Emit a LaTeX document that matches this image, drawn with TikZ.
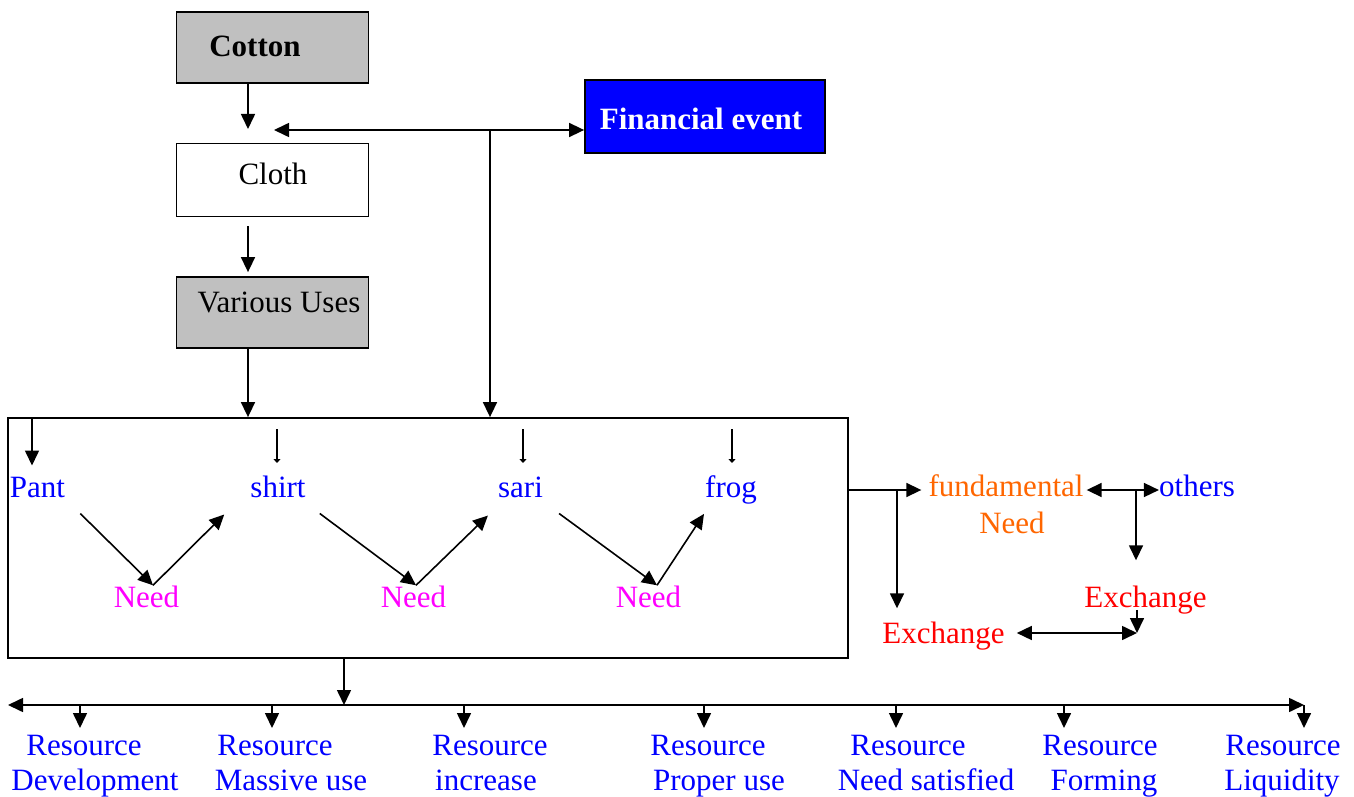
\documentclass[tikz,border=0pt]{standalone}
\usepackage{fontspec}
\setmainfont{Liberation Serif}
\usetikzlibrary{arrows.meta}
\definecolor{boxgray}{HTML}{C0C0C0}
\definecolor{fblue}{HTML}{0000FF}
\definecolor{nmag}{HTML}{FF00FF}
\definecolor{forange}{HTML}{FF6600}
\definecolor{exred}{HTML}{FF0000}
\begin{document}
\begin{tikzpicture}[x=1pt,y=-1pt,
  font=\fontsize{31}{36}\selectfont,
  box/.style={draw=black, line width=1.8pt, inner sep=0pt, minimum width=192pt},
  txt/.style={inner sep=0pt, anchor=base},
  conn/.style={line width=1.6pt},
  arr/.style={conn, -{Triangle[length=15pt,width=14pt]}},
  darr/.style={conn, {Triangle[length=15pt,width=14pt]}-{Triangle[length=15pt,width=14pt]}},
  sarr/.style={line width=1.4pt, -{Triangle[length=4pt,width=7pt]}},
  ]
\useasboundingbox (0,0) rectangle (1354,797);

% boxes
\node[box, fill=boxgray, minimum height=71pt] (cotton) at (272.5,47.5) {};
\node[box, fill=white, minimum height=73pt] (cloth) at (272.5,180) {};
\node[box, fill=boxgray, minimum height=71pt] (uses) at (272.5,312.5) {};
\node[box, fill=fblue, minimum width=240pt, minimum height=73pt] (fin) at (705,116.5) {};
\node[box, minimum width=840pt, minimum height=240pt] (big) at (428,538) {};

% box texts
\node[txt, font=\fontsize{31}{36}\selectfont\bfseries] (cottonT) at (255,57) {Cotton};
\node[txt] (clothT) at (273,184) {Cloth};
\node[txt] (usesT) at (279,312) {Various Uses};
\node[txt, text=white, font=\fontsize{31}{36}\selectfont\bfseries] (finT) at (701,129) {Financial event};

% inner texts
\node[txt, text=fblue] (pant) at (37.5,497) {Pant};
\node[txt, text=fblue] (shirt) at (278,497) {shirt};
\node[txt, text=fblue] (sari) at (520.5,497) {sari};
\node[txt, text=fblue] (frog) at (731,497) {frog};
\node[txt, text=nmag] (need1) at (146.5,607) {Need};
\node[txt, text=nmag] (need2) at (413.5,607) {Need};
\node[txt, text=nmag] (need3) at (648.5,607) {Need};

% right texts
\node[txt, text=forange] (fundT) at (1006,496) {fundamental};
\node[txt, text=forange] (fundN) at (1012,533) {Need};
\node[txt, text=fblue] (others) at (1197,496) {others};
\node[txt, text=exred] (exR) at (1145.5,607) {Exchange};
\node[txt, text=exred] (exL) at (943.5,643) {Exchange};

% bottom labels
\node[txt, text=fblue] (r1) at (84,755) {Resource};
\node[txt, text=fblue] (r1b) at (95,790) {Development};
\node[txt, text=fblue] (r2) at (275,755) {Resource};
\node[txt, text=fblue] (r2b) at (291,790) {Massive use};
\node[txt, text=fblue] (r3) at (490,755) {Resource};
\node[txt, text=fblue] (r3b) at (486,790) {increase};
\node[txt, text=fblue] (r4) at (708,755) {Resource};
\node[txt, text=fblue] (r4b) at (719,790) {Proper use};
\node[txt, text=fblue] (r5) at (908,755) {Resource};
\node[txt, text=fblue] (r5b) at (926,790) {Need satisfied};
\node[txt, text=fblue] (r6) at (1100,755) {Resource};
\node[txt, text=fblue] (r6b) at (1104,790) {Forming};
\node[txt, text=fblue] (r7) at (1283,755) {Resource};
\node[txt, text=fblue] (r7b) at (1282,790) {Liquidity};

% helper coordinates
\coordinate (c1) at (248,129);
\coordinate (ax) at (248,0);
\coordinate (fl) at (274,130);
\coordinate (fj) at (490,130);
\coordinate (px) at (32,0);
\coordinate (s1) at (277,429);
\coordinate (s2) at (523,429);
\coordinate (s3) at (732,429);
\coordinate (rj) at (897,490);
\coordinate (rj2) at (1136,490);
\coordinate (ej) at (1137,633);
\coordinate (bj) at (344,705);
\coordinate (bl) at (8,705);
\coordinate (br) at (1304,705);
\coordinate (d1) at (80,728);
\coordinate (d2) at (272,728);
\coordinate (d3) at (464,728);
\coordinate (d4) at (704,728);
\coordinate (d5) at (896,728);
\coordinate (d6) at (1064,728);
\coordinate (d7) at (1304,728);

% top connectors
\draw[arr] (cotton.south -| c1) -- (c1);
\draw[darr] (fl) -- (fl -| fin.west);
\draw[arr] (fj) -- (fj |- big.north);
\draw[arr, shorten <=9pt, shorten >=4pt] (cloth.south -| ax) -- (uses.north -| ax);
\draw[arr] (uses.south -| ax) -- (big.north -| ax);

% inside the big box
\draw[arr, shorten >=11pt] (big.north -| px) -- (pant.north -| px);
\draw[sarr] (s1) -- (s1 |- 0,463);
\draw[sarr] (s2) -- (s2 |- 0,463);
\draw[sarr] (s3) -- (s3 |- 0,463);
\draw[arr] ([shift={(15,16)}]pant.south east) -- ([xshift=6.5pt]need1.north);
\draw[arr] ([xshift=6.5pt]need1.north) -- ([shift={(-26,17)}]shirt.south west);
\draw[arr] ([shift={(14,16)}]shirt.south east) -- ([xshift=2.5pt]need2.north);
\draw[arr] ([xshift=2.5pt]need2.north) -- ([shift={(-10,18)}]sari.south west);
\draw[arr] ([shift={(16,16)}]sari.south east) -- ([xshift=8.5pt]need3.north);
\draw[arr] ([xshift=8.5pt]need3.north) -- ([shift={(-1,10)}]frog.south west);

% right side
\draw[arr, shorten >=7pt] (rj -| big.east) -- (rj -| fundT.west);
\draw[arr, shorten >=13pt] (rj) -- (rj |- exL.north);
\draw[darr, shorten <=3pt] (rj2 -| fundT.east) -- (rj2 -| others.west);
\draw[arr, shorten >=25pt] (rj2) -- (rj2 |- exR.north);
\draw[arr, shorten <=-4pt] (exR.south -| ej) -- (ej);
\draw[darr, shorten <=12pt] (ej -| exL.east) -- (ej);

% bottom
\draw[arr] (bj |- big.south) -- (bj);
\draw[darr] (bl) -- (br);
\foreach \d in {d1,d2,d3,d4,d5,d6,d7}{
  \draw[arr] (\d |- bl) -- (\d);
}
\end{tikzpicture}
\end{document}
